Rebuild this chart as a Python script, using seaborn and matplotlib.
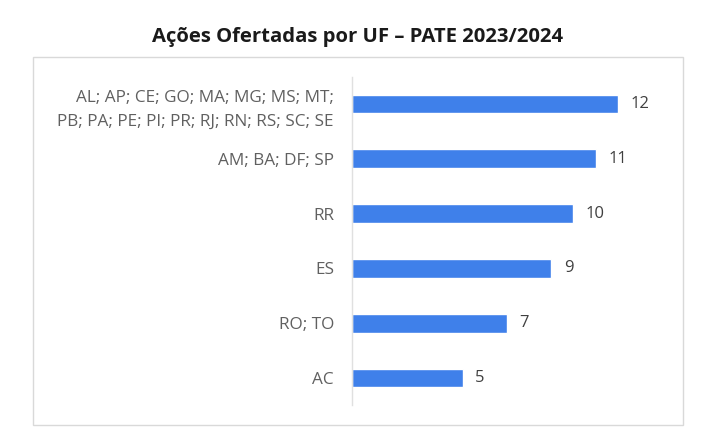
import pandas as pd
import matplotlib.pyplot as plt
import seaborn as sns
from matplotlib.patches import Rectangle

# chart data
ufs = ['AL; AP; CE; GO; MA; MG; MS; MT;\nPB; PA; PE; PI; PR; RJ; RN; RS; SC; SE',
       'AM; BA; DF; SP',
       'RR',
       'ES',
       'RO; TO',
       'AC']
acoes = [12, 11, 10, 9, 7, 5]

df = pd.DataFrame({'uf': ufs, 'acoes': acoes})

sns.set_style('white')
plt.rcParams['font.family'] = ['Open Sans', 'DejaVu Sans']

fig = plt.figure(figsize=(7.15, 4.41), dpi=100)
ax = fig.add_axes([352 / 715, 35.6 / 441, 310 / 715, 328.8 / 441])

sns.barplot(data=df, x='acoes', y='uf', orient='h', color='#3F80EA',
            width=0.34, saturation=1, ax=ax)

for i, v in enumerate(acoes):
    ax.annotate(str(v), (v, i), xytext=(9, 0), textcoords='offset points',
                va='center', ha='left', fontsize=12, color='#404040')

ax.set_xlim(0, 14)
ax.set_ylim(5.5, -0.5)
ax.set_xlabel('')
ax.set_ylabel('')
ax.set_xticks([])
ax.tick_params(axis='y', length=0, pad=13, labelsize=12.3, labelcolor='#606060')
for lab in ax.get_yticklabels():
    lab.set_linespacing(1.65)

for side in ['top', 'right', 'bottom']:
    ax.spines[side].set_visible(False)
ax.spines['left'].set_color('#e0e0e0')
ax.spines['left'].set_linewidth(1)

# outer chart frame
fig.patches.append(Rectangle((33 / 715, 16 / 441), 650 / 715, 368 / 441,
                             transform=fig.transFigure, fill=False,
                             edgecolor='#d9d9d9', linewidth=1))

fig.text(0.5, 404 / 441, 'Ações Ofertadas por UF – PATE 2023/2024',
         ha='center', va='center', fontsize=14.6, fontweight='bold',
         color='#1a1a1a')

fig.savefig('out.png', dpi=100)
